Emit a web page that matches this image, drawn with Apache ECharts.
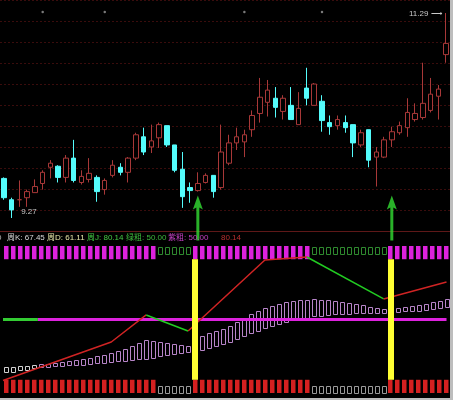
<!DOCTYPE html>
<html>
<head>
<meta charset="utf-8">
<script src="https://cdn.jsdelivr.net/npm/echarts@6/dist/echarts.min.js"></script>
<style>
  html, body { margin: 0; padding: 0; background: #bdbdbd; }
  #chart { position: absolute; left: 0; top: 0; width: 450px; height: 398px; background: #000; }
</style>
</head>
<body>
<div id="chart"></div>
<script>
// 日K线  [开, 收, 低, 高]
var candles = [
  [9.66, 9.47, 9.45, 9.67], [9.45, 9.35, 9.27, 9.47], [9.45, 9.45, 9.38, 9.64], [9.47, 9.53, 9.38, 9.55],
  [9.52, 9.58, 9.52, 9.65], [9.61, 9.72, 9.55, 9.74], [9.77, 9.81, 9.66, 9.84], [9.78, 9.67, 9.62, 9.79],
  [9.67, 9.86, 9.62, 9.89], [9.86, 9.64, 9.62, 10.04], [9.62, 9.68, 9.60, 9.74], [9.65, 9.71, 9.62, 9.86],
  [9.67, 9.53, 9.43, 9.69], [9.55, 9.64, 9.50, 9.66], [9.69, 9.79, 9.67, 9.84], [9.77, 9.72, 9.69, 9.81],
  [9.72, 9.86, 9.62, 9.87], [9.86, 10.09, 9.84, 10.11], [10.07, 9.92, 9.89, 10.16], [9.97, 10.03, 9.91, 10.19],
  [10.06, 10.19, 9.96, 10.21], [10.18, 9.99, 9.97, 10.18], [9.99, 9.74, 9.72, 9.99], [9.75, 9.48, 9.37, 9.92],
  [9.57, 9.54, 9.42, 9.62], [9.54, 9.61, 9.53, 9.72], [9.62, 9.69, 9.61, 9.71], [9.69, 9.53, 9.47, 9.69],
  [9.57, 9.92, 9.55, 10.19], [9.81, 10.01, 9.79, 10.09], [10.01, 10.07, 9.94, 10.16], [10.02, 10.09, 9.87, 10.14],
  [10.14, 10.28, 10.07, 10.33], [10.30, 10.46, 10.21, 10.65], [10.41, 10.53, 10.27, 10.63], [10.45, 10.36, 10.26, 10.56],
  [10.32, 10.45, 10.24, 10.48], [10.38, 10.24, 10.24, 10.56], [10.19, 10.35, 10.19, 10.51], [10.55, 10.45, 10.38, 10.75],
  [10.38, 10.59, 10.38, 10.60], [10.42, 10.23, 10.12, 10.48], [10.21, 10.17, 10.09, 10.28], [10.18, 10.24, 10.14, 10.28],
  [10.21, 10.16, 10.11, 10.28], [10.19, 10.01, 9.87, 10.19], [9.99, 10.11, 9.97, 10.14], [10.14, 9.84, 9.77, 10.14],
  [9.87, 9.92, 9.58, 9.97], [9.87, 10.04, 9.86, 10.07], [10.04, 10.12, 9.97, 10.17], [10.11, 10.18, 10.09, 10.22],
  [10.16, 10.31, 10.07, 10.45], [10.24, 10.30, 10.22, 10.40], [10.26, 10.40, 10.24, 10.80], [10.33, 10.49, 10.31, 10.65],
  [10.47, 10.54, 10.24, 10.58], [10.88, 10.99, 10.80, 11.29]
];
var topDots = [5, 13, 31, 41];      // 顶部小圆点
var buySignals = [25, 50];          // 绿色箭头

// 下方周线窗口 (64 根)
var weekState = '1111111111111111111111000001111111111111111100000000000111111111'.split('').map(Number);
// 周J 折线拐点 [序号, 值]
var weekLine = [[-0.5, 8.5], [15, 34.7], [20, 53.1], [26, 42.2], [37, 90.5], [43, 92.5], [54, 64.0], [63, 75.5]];
var bandUpper = [17.7, 17.9, 18.1, 18.4, 18.9, 19.4, 19.9, 20.4, 21.0, 21.6,
  22.4, 23.2, 24.1, 25.0, 25.9, 27.0, 28.3, 29.9, 31.8, 33.8,
  36.0, 35.4, 34.7, 34.0, 33.2, 32.4, 31.8, 37.4, 39.0, 40.6,
  42.2, 43.6, 45.5, 48.0, 50.8, 53.5, 56.0, 58.0, 59.5, 60.8,
  61.8, 62.6, 63.2, 63.5, 63.9, 63.6, 63.2, 62.6, 62.0, 61.3,
  60.5, 59.7, 58.8, 58.0, 57.3, 57.5, 57.8, 58.3, 59.0, 59.8,
  60.7, 61.7, 62.8, 64.0];
var bandLower = [14.3, 14.8, 15.4, 16.0, 16.6, 17.2, 17.7, 18.2, 18.5, 18.8,
  19.0, 19.3, 19.7, 20.0, 20.4, 20.9, 21.3, 21.8, 22.2, 22.7,
  23.1, 24.0, 24.9, 25.9, 26.6, 27.2, 27.9, 28.6, 29.3, 30.6,
  31.9, 33.3, 34.6, 36.5, 38.5, 40.5, 42.6, 44.5, 46.0, 47.3,
  48.5, 49.5, 50.3, 51.0, 52.4, 52.8, 53.2, 53.5, 53.8, 54.0,
  54.2, 54.4, 54.4, 54.4, 54.4, 54.6, 55.0, 55.3, 55.6, 55.9,
  56.4, 57.0, 57.7, 58.5];
var thickLevel = 50;
var greenUntil = 4.5;
var lastWeek = 63;

var labels = [
  ['0', '#bbbbbb', -3], ['周K: 67.45', '#d8d8d8', 7], ['周D: 61.11', '#e6e6aa', 47],
  ['周J: 80.14', '#44cc44', 87], ['绿粗: 50.00', '#3cb83c', 126], ['紫粗: 50.00', '#c040c0', 168],
  ['80.14', '#b83030', 221]
];

var FONT = '"Liberation Sans", Arial, "Noto Sans CJK SC", sans-serif';
var yMin = 9.132, yMax = 11.418;

var chart = echarts.init(document.getElementById('chart'));

// 画竖条/空心框
function stick(width, fill, stroke) {
  return function (params, api) {
    var i = api.value(0);
    var top = api.coord([i, api.value(2)]);
    var bot = api.coord([i, api.value(1)]);
    var x = Math.round(top[0] - width / 2);
    if (stroke) {
      return {
        type: 'rect',
        shape: { x: x + 0.5, y: Math.round(top[1]) + 0.5, width: width, height: Math.round(bot[1] - top[1]) },
        style: { fill: 'none', stroke: typeof stroke === 'function' ? stroke(i) : stroke, lineWidth: 1 }
      };
    }
    return {
      type: 'rect',
      shape: { x: x, y: top[1], width: width, height: bot[1] - top[1] },
      style: { fill: fill }
    };
  };
}

var longBars = [], shortBars = [], yellowBars = [];
weekState.forEach(function (s, i) {
  if (s) longBars.push(i); else shortBars.push(i);
  if (s && weekState[i - 1] === 0) yellowBars.push(i);
});

var lowSeries = function (data, render, z) {
  return { type: 'custom', xAxisIndex: 2, yAxisIndex: 2, data: data, renderItem: render,
    encode: { x: 0, y: [1, 2] }, z: z || 2, silent: true };
};

// 最高/最低价位置
var hiIdx = 0, loIdx = 0;
candles.forEach(function (d, i) {
  if (d[3] > candles[hiIdx][3]) hiIdx = i;
  if (d[2] < candles[loIdx][2]) loIdx = i;
});

var series = [
  {
    type: 'candlestick', xAxisIndex: 1, yAxisIndex: 1, data: candles, barWidth: 5,
    itemStyle: { color: '#000', color0: '#54fcfc', borderColor: '#a83838', borderColor0: '#54fcfc', borderWidth: 1 },
    markPoint: {
      symbol: 'circle', symbolSize: 1, silent: true,
      itemStyle: { color: 'rgba(0,0,0,0)' },
      label: { show: true, color: '#c8c8c8', fontSize: 8, fontFamily: FONT },
      data: [
        { coord: [hiIdx, candles[hiIdx][3]], value: candles[hiIdx][3].toFixed(2),
          label: { position: 'left', offset: [1, 1], formatter: '{c} ⟶' } },
        { coord: [loIdx, candles[loIdx][2]], value: candles[loIdx][2].toFixed(2),
          label: { position: 'right', offset: [4, -6], formatter: '{c}' } }
      ]
    }
  },
  {
    type: 'scatter', xAxisIndex: 1, yAxisIndex: 1, symbolSize: 2.5, silent: true,
    itemStyle: { color: '#999' },
    data: topDots.map(function (i) { return [i, 11.30]; })
  },
  {
    type: 'scatter', xAxisIndex: 1, yAxisIndex: 1, clip: false, silent: true, z: 5,
    symbol: 'path://M5,0 L10,14 L6.5,12 L6.5,45 L3.5,45 L3.5,12 L0,14 Z',
    symbolSize: [10, 45], symbolOffset: [0, -14],
    itemStyle: { color: '#33dd33' },
    data: buySignals.map(function (i) { return [i, yMin]; })
  },
  lowSeries(longBars.map(function (i) { return [i, 91, 100]; }), stick(4.5, '#dd22dd')),
  lowSeries(shortBars.map(function (i) { return [i, 94.5, 99.5]; }), stick(4, null, '#2f8a2f')),
  lowSeries(longBars.map(function (i) { return [i, 0, 9]; }), stick(4.5, '#d42020')),
  lowSeries(shortBars.map(function (i) { return [i, 0.3, 4.8]; }), stick(4, null, '#9a9a9a')),
  lowSeries(yellowBars.map(function (i) { return [i, 9, 91]; }), stick(6, '#ffff33'), 6),
  lowSeries(bandUpper.map(function (u, i) { return [i, bandLower[i], u]; }),
    stick(4, null, function (i) { return i < 5 ? '#d0d0d0' : '#b784c8'; }), 3),
  {
    type: 'line', xAxisIndex: 3, yAxisIndex: 2, symbol: 'none', silent: true, z: 4,
    lineStyle: { color: '#33cc33', width: 3 },
    data: [[-0.5, thickLevel], [greenUntil, thickLevel]]
  },
  {
    type: 'line', xAxisIndex: 3, yAxisIndex: 2, symbol: 'none', silent: true, z: 4,
    lineStyle: { color: '#dd22dd', width: 3 },
    data: [[greenUntil, thickLevel], [lastWeek, thickLevel]]
  }
];

// 周J：上涨红色，下跌绿色
var seg = null;
for (var k = 1; k < weekLine.length; k++) {
  var c = weekLine[k][1] >= weekLine[k - 1][1] ? '#d02424' : '#22cc22';
  if (!seg || seg.c !== c) {
    seg = { c: c, pts: [weekLine[k - 1]] };
    series.push({
      type: 'line', xAxisIndex: 3, yAxisIndex: 2, symbol: 'none', silent: true, z: 5,
      lineStyle: { color: c, width: 1.5 }, data: seg.pts
    });
  }
  seg.pts.push(weekLine[k]);
}

chart.setOption({
  backgroundColor: '#000',
  animation: false,
  textStyle: { fontFamily: FONT },
  grid: [
    { left: 0, right: 0, top: 0, height: 231 },
    { left: -3, width: 453, top: 0, height: 232 },
    { left: 3, width: 448, top: 246, height: 147 }
  ],
  xAxis: [
    { type: 'value', gridIndex: 0, min: 0, max: 1, axisLabel: { show: false }, axisTick: { show: false },
      splitLine: { show: false }, axisLine: { show: true, lineStyle: { color: '#5e1818' } } },
    { type: 'category', gridIndex: 1, data: candles.map(function (d, i) { return i; }), show: false },
    { type: 'category', gridIndex: 2, data: weekState.map(function (d, i) { return i; }), show: false },
    { type: 'value', gridIndex: 2, min: -0.5, max: 63.5, show: false }
  ],
  yAxis: [
    { type: 'value', gridIndex: 0, min: 0, max: 11, interval: 1, axisLabel: { show: false },
      axisTick: { show: false }, axisLine: { show: false },
      splitLine: { show: true, lineStyle: { color: '#3a0c0c', type: [2, 2] } } },
    { type: 'value', gridIndex: 1, min: yMin, max: yMax, show: false, splitLine: { show: false } },
    { type: 'value', gridIndex: 2, min: 0, max: 100, show: false, splitLine: { show: false } }
  ],
  graphic: labels.map(function (l) {
    return { type: 'text', x: l[2], y: 238, z: 10, silent: true,
      style: { text: l[0], fill: l[1], fontSize: 8, fontFamily: FONT, verticalAlign: 'middle' } };
  }),
  series: series
});
</script>
</body>
</html>
